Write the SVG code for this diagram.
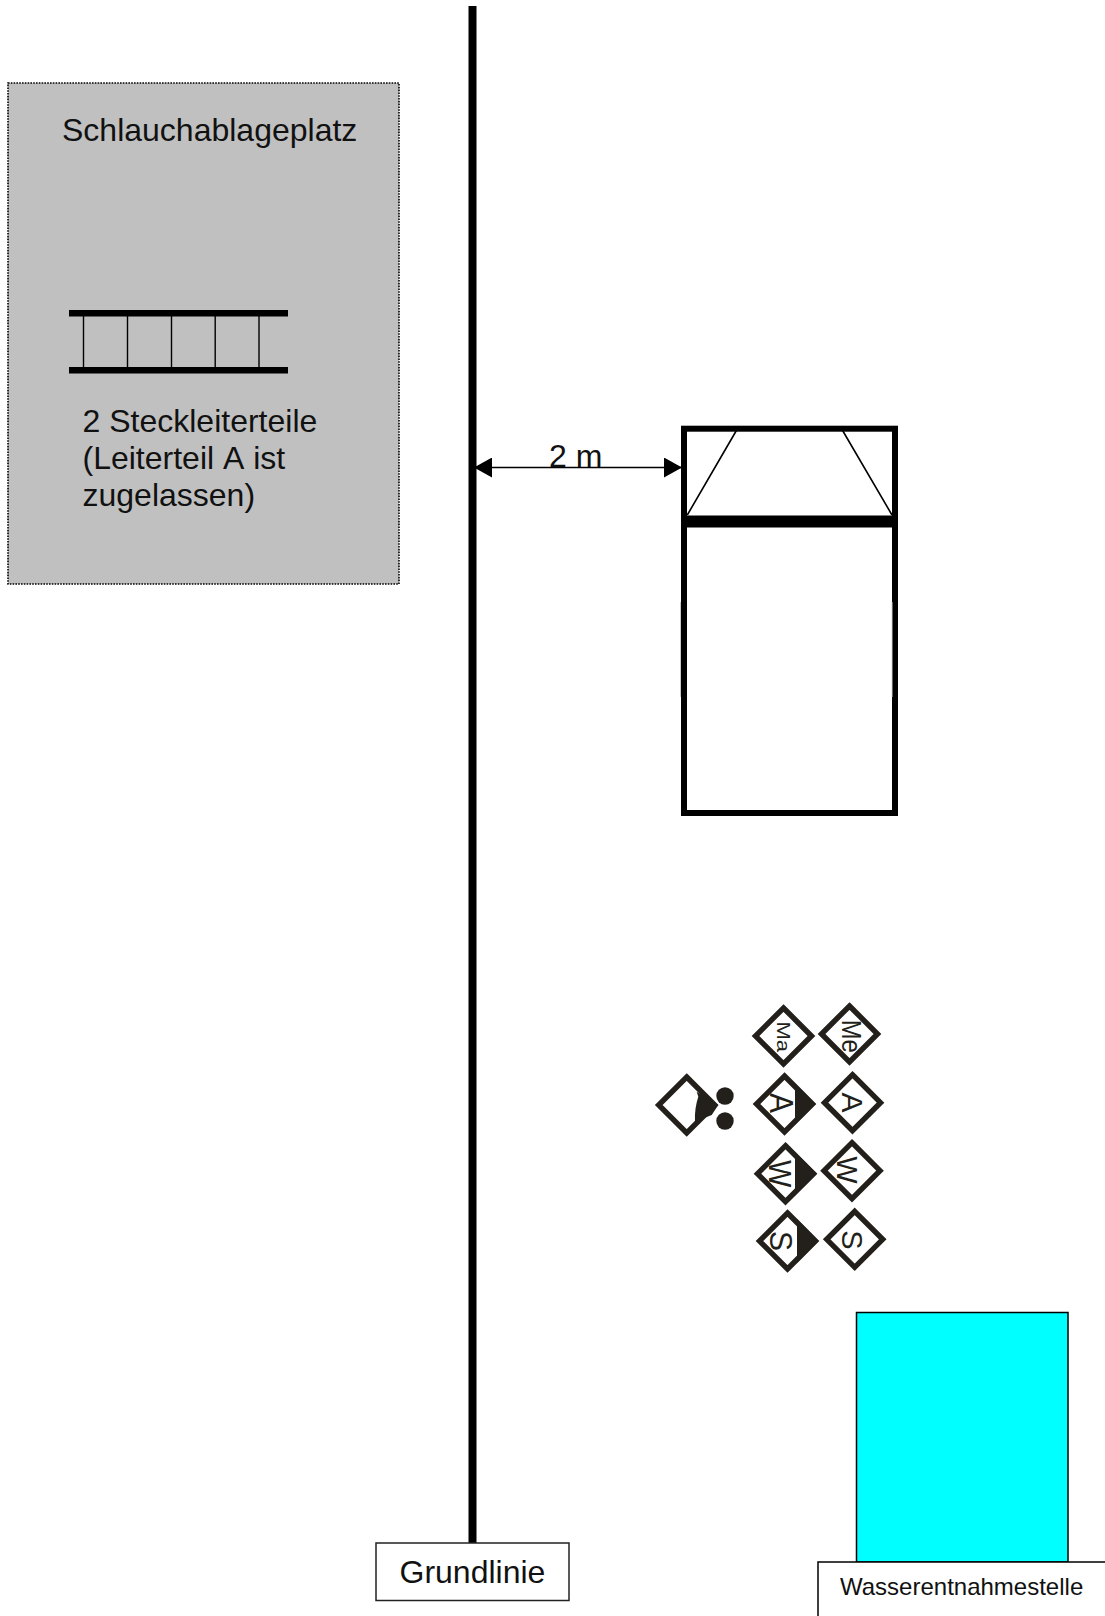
<svg xmlns="http://www.w3.org/2000/svg" width="1105" height="1616" viewBox="0 0 1105 1616">
<style>
text{font-family:"Liberation Sans",Arial,sans-serif;fill:#111}
.big{font-size:32px;font-kerning:none}
.rot{font-size:29px;text-anchor:middle;fill:#231f1a}
.rung{stroke:#000;stroke-width:1.4;fill:none}
.thin{stroke:#000;stroke-width:1.6;fill:none}
.dark{fill:#231f1a}
</style>
<defs>
<polygon id="dia" points="0,-28 28,0 0,28 -28,0" fill="#fff" stroke="#231f1a" stroke-width="5.4"/>
<marker id="ah" viewBox="0 0 18 20" refX="18" refY="10" markerUnits="userSpaceOnUse" markerWidth="18" markerHeight="20" orient="auto-start-reverse"><path d="M0,0L18,10L0,20Z" fill="#000"/></marker>
</defs>
<rect width="1105" height="1616" fill="#fff"/>
<g id="schlauchablageplatz">
<rect x="8" y="83" width="391" height="501" fill="#c0c0c0" stroke="#000" stroke-width="1.6" stroke-dasharray="1.6 1.2"/>
<text class="big" x="62" y="141">Schlauchablageplatz</text>
<text class="big" x="82.5" y="432">2 Steckleiterteile</text>
<text class="big" x="82.5" y="469">(Leiterteil A ist</text>
<text class="big" x="82.5" y="506">zugelassen)</text>
</g>
<g id="leiter">
<rect x="69" y="310" width="219" height="6.5" fill="#000"/>
<rect x="69" y="367" width="219" height="6.5" fill="#000"/>
<path class="rung" d="M83.5 316V367M127.5 316V367M171.5 316V367M215.2 316V367M259 316V367"/>
</g>
<g id="grundlinie">
<rect x="468.5" y="6" width="8" height="1537" fill="#000"/>
<rect x="376" y="1543" width="193" height="57.5" fill="#fff" stroke="#222" stroke-width="1.5"/>
<text class="big" x="399.5" y="1583">Grundlinie</text>
</g>
<g id="fahrzeug">
<rect x="684" y="428.7" width="211" height="384.3" fill="#fff" stroke="#000" stroke-width="6"/>
<rect x="686" y="515.5" width="208" height="12" fill="#000"/>
<path class="thin" d="M687.3 515L736.7 430M842.3 430L892 515"/>
<path d="M680.5 602V697M892.2 602V697" stroke="#bbb" stroke-width="0.8" fill="none"/>
</g>
<g id="connectors">
<line x1="474" y1="467.5" x2="682" y2="467.5" stroke="#000" stroke-width="1.4" marker-start="url(#ah)" marker-end="url(#ah)"/>
</g>
<text id="abstand" class="big" x="549" y="467">2 m</text>
<g id="trupp-ma"><use href="#dia" x="783.5" y="1036"/><text class="rot" transform="translate(776.7 1036.7) rotate(90) scale(1 .82)" style="font-size:22px">Ma</text></g>
<g id="trupp-me"><use href="#dia" x="849.5" y="1034"/><text class="rot" transform="translate(841.7 1036.3) rotate(90) scale(.85 1)" style="font-size:28px">Me</text></g>
<g id="trupp-a1"><use href="#dia" x="784.5" y="1104"/><path class="dark" d="M795 1083.5L815.5 1104L795 1124.5Z"/><text class="rot" transform="translate(770 1103) rotate(90) scale(1 1.08)" style="font-size:30px">A</text></g>
<g id="trupp-a2"><use href="#dia" x="852.5" y="1102.7"/><text class="rot" transform="translate(841.7 1102.5) rotate(90)" style="font-size:30px">A</text></g>
<g id="trupp-w1"><use href="#dia" x="785.5" y="1173.7"/><path class="dark" d="M795 1152L817 1173.7L795 1195.5Z"/><text class="rot" transform="translate(768.5 1173.7) rotate(90) scale(1 1.1)">W</text></g>
<g id="trupp-w2"><use href="#dia" x="852" y="1170.7"/><text class="rot" transform="translate(836.7 1170) rotate(90)">W</text></g>
<g id="trupp-s1"><use href="#dia" x="787.5" y="1241"/><path class="dark" d="M797 1219L818.5 1241L797 1263Z"/><text class="rot" transform="translate(770 1241) rotate(90) scale(1 1.05)" style="font-size:30px">S</text></g>
<g id="trupp-s2"><use href="#dia" x="854.7" y="1239.3"/><text class="rot" transform="translate(842 1240) rotate(90)" style="font-size:29px">S</text></g>
<g id="maschinist"><use href="#dia" x="686.7" y="1105"/><path class="dark" d="M696.7 1091.7L718.3 1105L711.7 1115L695 1121.7C694.5 1112 696 1104 698.3 1096.7Z"/><circle class="dark" cx="725" cy="1096" r="8.7"/><circle class="dark" cx="725" cy="1121" r="8.7"/></g>
<g id="wasserentnahmestelle">
<rect x="856.5" y="1312.5" width="211.5" height="249.5" fill="#0ff" stroke="#000" stroke-width="1.5"/>
<rect x="818" y="1562" width="300" height="80" fill="#fff" stroke="#000" stroke-width="1.5"/>
<text x="840" y="1595" style="font-size:24px">Wasserentnahmestelle</text>
</g>
</svg>
